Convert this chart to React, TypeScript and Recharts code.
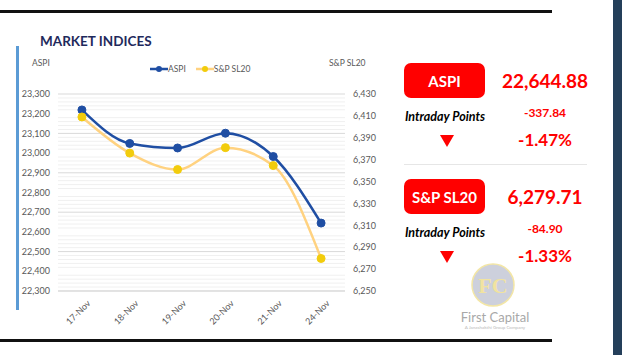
import React from 'react';
import {
  LineChart,
  Line,
  XAxis,
  YAxis,
  CartesianGrid,
  Legend,
  ReferenceLine,
} from 'recharts';

const dates = ['17-Nov', '18-Nov', '19-Nov', '20-Nov', '21-Nov', '24-Nov'];
const aspi = [23219, 23049, 23026, 23101, 22982.72, 22644.88];
const spsl20 = [6409, 6376, 6361, 6381, 6364.61, 6279.71];

const aspiTicks = [22300, 22400, 22500, 22600, 22700, 22800, 22900, 23000, 23100, 23200, 23300];
const spTicks = [6250, 6270, 6290, 6310, 6330, 6350, 6370, 6390, 6410, 6430];
// faint minor lines between the ASPI gridlines (every 20)
const minorLines = [
  22320, 22340, 22360, 22380, 22420, 22440, 22460, 22480, 22520, 22540, 22560, 22580,
  22620, 22640, 22660, 22680, 22720, 22740, 22760, 22780, 22820, 22840, 22860, 22880,
  22920, 22940, 22960, 22980, 23020, 23040, 23060, 23080, 23120, 23140, 23160, 23180,
  23220, 23240, 23260, 23280,
];
// category boundaries for the small tick marks under the x axis
const boundaryTicks = [0, 1, 2, 3, 4, 5, 6];

const data = dates.map((d, i) => ({ date: d, aspi: aspi[i], sp: spsl20[i] }));

const FONT = 'Lato, "Open Sans", sans-serif';
const RED = '#ff0000';

const fmt = (v: number) => v.toLocaleString('en-US');

function DateTick(props: any) {
  const { x, y, payload } = props;
  return (
    <g transform={`translate(${x},${y})`}>
      <text
        x={3}
        y={10}
        transform="rotate(-45)"
        textAnchor="end"
        fontSize={9}
        fill="#595959"
        fontFamily={FONT}
      >
        {payload.value}
      </text>
    </g>
  );
}

function LegendContent() {
  const items = [
    { label: 'ASPI', line: '#1f4ea3', dot: '#1f4ea3' },
    { label: 'S&P SL20', line: '#ffd280', dot: '#f2cc0c' },
  ];
  return (
    <div style={{ display: 'flex', gap: 10, fontSize: 8.5, color: '#595959', fontFamily: FONT }}>
      {items.map((it) => (
        <div key={it.label} style={{ display: 'flex', alignItems: 'center' }}>
          <svg width={18} height={8}>
            <line x1={0} y1={4} x2={18} y2={4} stroke={it.line} strokeWidth={2.5} />
            <circle cx={9} cy={4} r={3} fill={it.dot} />
          </svg>
          <span>{it.label}</span>
        </div>
      ))}
    </div>
  );
}

function IndexBlock(props: { top: number; name: string; value: string; points: string; pct: string }) {
  const { top, name, value, points, pct } = props;
  return (
    <>
      <div
        style={{
          position: 'absolute', left: 404, top, width: 81, height: 35, background: RED,
          borderRadius: 7, color: '#fff', fontWeight: 700, fontSize: 15,
          display: 'flex', alignItems: 'center', justifyContent: 'center',
        }}
      >
        {name}
      </div>
      <div style={{ position: 'absolute', left: 495, width: 100, top: top + 6, textAlign: 'center', color: RED, fontWeight: 700, fontSize: 19 }}>
        {value}
      </div>
      <div style={{ position: 'absolute', left: 385, width: 120, top: top + 46, textAlign: 'center', color: '#000', fontWeight: 700, fontStyle: 'italic', fontSize: 12.5 }}>
        Intraday Points
      </div>
      <div style={{ position: 'absolute', left: 495, width: 100, top: top + 42, textAlign: 'center', color: RED, fontWeight: 700, fontSize: 12 }}>
        {points}
      </div>
      <svg style={{ position: 'absolute', left: 440, top: top + 72 }} width={14} height={12}>
        <polygon points="0,0 14,0 7,12" fill={RED} />
      </svg>
      <div style={{ position: 'absolute', left: 495, width: 100, top: top + 66, textAlign: 'center', color: RED, fontWeight: 700, fontSize: 17 }}>
        {pct}
      </div>
    </>
  );
}

export default function App() {
  return (
    <div style={{ position: 'absolute', left: 0, top: 0, width: 629, height: 355, background: '#fff', fontFamily: FONT, overflow: 'hidden' }}>
      {/* frame lines */}
      <div style={{ position: 'absolute', left: 0, top: 10, width: 552, height: 3, background: '#111' }} />
      <div style={{ position: 'absolute', left: 0, top: 339, width: 552, height: 3, background: '#111' }} />
      <div style={{ position: 'absolute', left: 613, top: 0, width: 9, height: 355, background: '#243f5a' }} />
      <div style={{ position: 'absolute', left: 16, top: 46, width: 3, height: 264, background: '#5b9bd5' }} />

      <div style={{ position: 'absolute', left: 40, top: 33, fontSize: 13.5, fontWeight: 700, color: '#1f2a5c' }}>
        MARKET INDICES
      </div>
      <div style={{ position: 'absolute', left: 32, top: 58, fontSize: 8.5, color: '#595959' }}>ASPI</div>
      <div style={{ position: 'absolute', left: 329, top: 58, fontSize: 8.5, color: '#595959' }}>S&amp;P SL20</div>

      <div style={{ position: 'absolute', left: 0, top: 0 }}>
        <LineChart width={385} height={335} data={data} margin={{ top: 94, right: 0, bottom: 14, left: 0 }}>
          <CartesianGrid yAxisId="left" vertical={false} stroke="#d9d9d9" strokeWidth={1} />
          {minorLines.map((v) => (
            <ReferenceLine key={v} yAxisId="left" y={v} stroke="#f0f0f0" strokeWidth={1} ifOverflow="hidden" />
          ))}
          <XAxis
            xAxisId="marks"
            type="number"
            domain={[0, 6]}
            ticks={boundaryTicks}
            height={0}
            tick={false}
            tickSize={4}
            tickLine={{ stroke: '#d9d9d9' }}
            axisLine={false}
          />
          <XAxis
            dataKey="date"
            scale="band"
            tick={<DateTick />}
            tickLine={false}
            axisLine={{ stroke: '#d9d9d9' }}
            interval={0}
          />
          <YAxis
            yAxisId="left"
            domain={[22300, 23300]}
            ticks={aspiTicks}
            tickFormatter={fmt}
            width={58}
            axisLine={false}
            tickLine={false}
            tick={{ fontSize: 9, fill: '#595959', fontFamily: FONT }}
          />
          <YAxis
            yAxisId="right"
            orientation="right"
            domain={[6250, 6430]}
            ticks={spTicks}
            tickFormatter={fmt}
            width={40}
            axisLine={false}
            tickLine={false}
            tick={{ fontSize: 9, fill: '#595959', fontFamily: FONT }}
          />
          <Legend
            verticalAlign="middle"
            align="center"
            layout="horizontal"
            content={<LegendContent />}
            wrapperStyle={{ top: 64, left: 150, width: 'auto' }}
          />
          <Line
            yAxisId="left"
            type="monotone"
            dataKey="aspi"
            name="ASPI"
            stroke="#1f4ea3"
            strokeWidth={2.5}
            dot={{ r: 4, fill: '#1f4ea3', stroke: '#1f4ea3', strokeWidth: 1 }}
            isAnimationActive={false}
          />
          <Line
            yAxisId="right"
            type="monotone"
            dataKey="sp"
            name="S&P SL20"
            stroke="#ffd280"
            strokeWidth={2.5}
            dot={{ r: 4, fill: '#f2cc0c', stroke: '#f2cc0c', strokeWidth: 1 }}
            isAnimationActive={false}
          />
        </LineChart>
      </div>

      <IndexBlock top={63} name="ASPI" value="22,644.88" points="-337.84" pct="-1.47%" />
      <div style={{ position: 'absolute', left: 404, top: 164, width: 183, height: 1, background: '#e6e6e6' }} />
      <IndexBlock top={179} name="S&P SL20" value="6,279.71" points="-84.90" pct="-1.33%" />

      {/* watermark logo */}
      <svg style={{ position: 'absolute', left: 470, top: 262 }} width={46} height={46}>
        <circle cx={23} cy={23} r={21} fill="#cdd0dc" stroke="#f3e6a6" strokeWidth={1.5} />
        <text x={23} y={31} textAnchor="middle" fontSize={22} fontWeight={700} fill="#f1e3a0" fontFamily="serif">FC</text>
      </svg>
      <div style={{ position: 'absolute', left: 450, width: 90, top: 309, textAlign: 'center', fontSize: 13, color: '#a8a8a8' }}>
        First Capital
      </div>
      <div style={{ position: 'absolute', left: 450, width: 90, top: 325, textAlign: 'center', fontSize: 4.5, color: '#bbbbbb' }}>
        A Janashakthi Group Company
      </div>
    </div>
  );
}
